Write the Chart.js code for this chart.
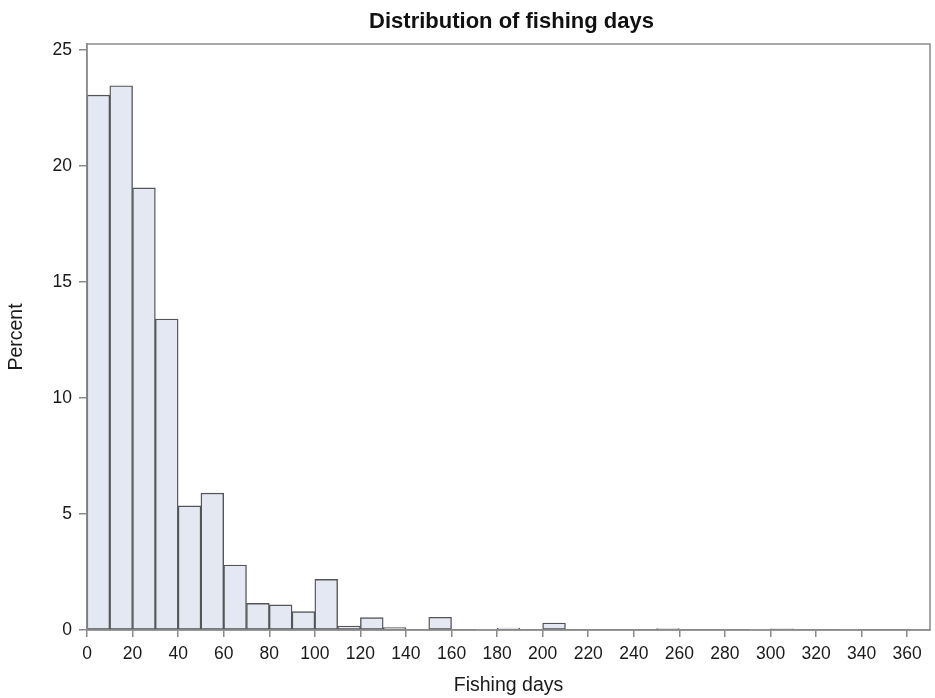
<!DOCTYPE html>
<html>
<head>
<meta charset="utf-8">
<script src="https://cdn.jsdelivr.net/npm/chart.js@4.4.0/dist/chart.umd.min.js"></script>
<style>
html,body{margin:0;padding:0;background:#fff;}
#wrap{width:935px;height:698px;}
</style>
</head>
<body>
<div id="wrap"><canvas id="c" width="935" height="698"></canvas></div>
<script>
const titleText = "Distribution of fishing days";
const xTitle = "Fishing days";
const yTitle = "Percent";
const binStarts = [0,10,20,30,40,50,60,70,80,90,100,110,120,130,140,150,160,170,180,190,200,210,220,230,240,250,260,270,280,290,300,310,320,330,340,350,360];
const percents  = [23.05,23.45,19.05,13.4,5.35,5.9,2.8,1.15,1.08,0.79,2.18,0.17,0.53,0.1,0,0.55,0,0.02,0.08,0,0.3,0,0,0,0,0.06,0,0,0,0.02,0.05,0,0,0.03,0,0,0.03];
const binWidth = 10;
const xTicks = [0,20,40,60,80,100,120,140,160,180,200,220,240,260,280,300,320,340,360];
const yTicks = [0,5,10,15,20,25];

const points = binStarts.map((s,i)=>({x:s+binWidth/2, y:percents[i]}));
const FONT = '"Liberation Sans", Arial, sans-serif';

const framePlugin = {
  id:'frame',
  afterDraw(chart){
    const {ctx, chartArea:a} = chart;
    ctx.save();
    ctx.strokeStyle = '#8a8a8a';
    ctx.lineWidth = 1.5;
    ctx.strokeRect(a.left, a.top, a.right-a.left, a.bottom-a.top);
    ctx.fillStyle = '#111';
    ctx.font = 'bold 22px ' + FONT;
    ctx.textAlign = 'center';
    ctx.textBaseline = 'middle';
    ctx.fillText(titleText, (a.left+a.right)/2 + 3, 22);
    ctx.restore();
  }
};

new Chart(document.getElementById('c'), {
  type:'bar',
  data:{datasets:[{
    data:points,
    backgroundColor:'#e3e8f2',
    borderColor:'#555555',
    borderWidth:1.4,
    borderSkipped:false,
    barPercentage:1,
    categoryPercentage:1
  }]},
  options:{
    responsive:false,
    animation:false,
    layout:{padding:{top:44,right:5,left:0,bottom:0}},
    plugins:{legend:{display:false},tooltip:{enabled:false}},
    scales:{
      x:{
        type:'linear', min:0, max:370, offset:false,
        afterBuildTicks(s){ s.ticks = xTicks.map(v=>({value:v})); },
        afterFit(s){ s.height = 68; },
        ticks:{color:'#1a1a1a', font:{size:17.5, family:FONT}, padding:7, maxRotation:0, autoSkip:false},
        grid:{drawOnChartArea:false, drawTicks:true, tickLength:7, color:'#8a8a8a', lineWidth:1.5, offset:false},
        border:{display:true, color:'#8a8a8a', width:1.5},
        title:{display:true, text:xTitle, color:'#1a1a1a', font:{size:19.5, family:FONT}, padding:{top:4,bottom:1}}
      },
      y:{
        min:0, max:25.25,
        afterBuildTicks(s){ s.ticks = yTicks.map(v=>({value:v})); },
        afterFit(s){ s.width = 87; },
        ticks:{color:'#1a1a1a', font:{size:17.5, family:FONT}, padding:7},
        grid:{drawOnChartArea:false, drawTicks:true, tickLength:8, color:'#8a8a8a', lineWidth:1.5},
        border:{display:true, color:'#8a8a8a', width:1.5},
        title:{display:true, text:yTitle, color:'#1a1a1a', font:{size:19.5, family:FONT}, padding:{top:5,bottom:0}}
      }
    }
  },
  plugins:[framePlugin]
});
</script>
</body>
</html>
